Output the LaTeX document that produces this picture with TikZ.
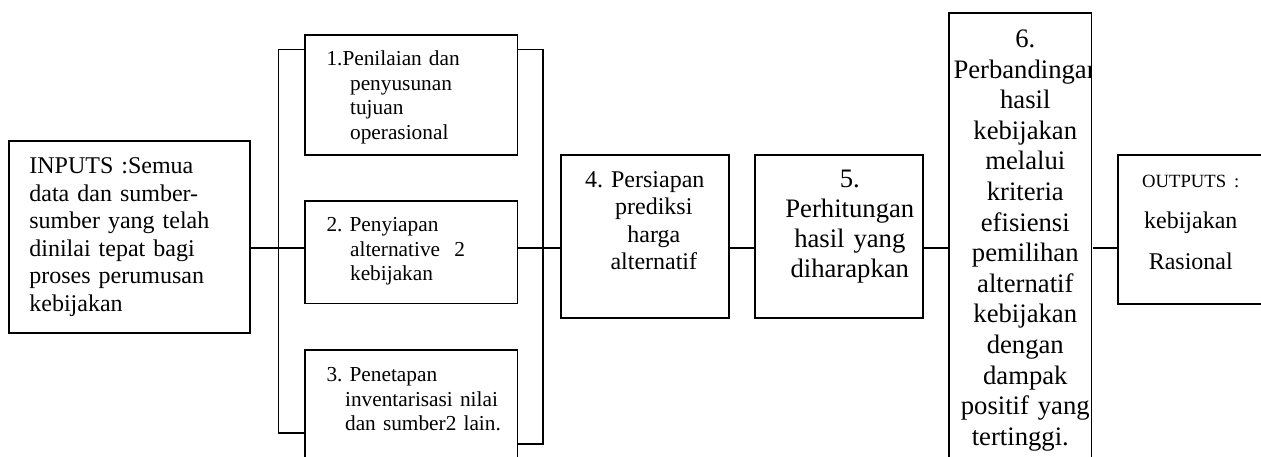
\documentclass[tikz,border=0pt]{standalone}
\usepackage{fontspec}
\setmainfont{Liberation Serif}
\frenchspacing
\tikzstyle{box} = [draw, line width=1.6pt, anchor=north west, inner ysep=0pt]
\tikzstyle{wire} = [line width=1.6pt]
\newcommand{\txtIn}{\fontsize{24}{27.6}\selectfont}
\newcommand{\txtStep}{\fontsize{21.33}{24.5}\selectfont}
\newcommand{\txtMid}{\fontsize{24}{27.3}\selectfont}
\newcommand{\txtBig}{\fontsize{26.67}{30}\selectfont}
\newcommand{\txtTall}{\fontsize{26.67}{30.6}\selectfont}
\newcommand{\txtOut}{\fontsize{24}{40.8}\selectfont}

\begin{document}
\begin{tikzpicture}[x=1pt,y=-1pt]
	\useasboundingbox (0,0) rectangle (1261,456);
	\clip (0,0) rectangle (1261,456);
	% input and the three parallel steps
	\node[box, font=\txtIn, align=left, inner xsep=20.6pt, text width=199.8pt, text height=32.7pt, text depth=159.3pt] (inputs) at (8,140) {INPUTS :Semua\\data dan sumber-\\sumber yang telah\\dinilai tepat bagi\\proses perumusan\\kebijakan};
	\node[box, font=\txtStep, align=left, inner xsep=21.4pt, text width=169.7pt, text height=31pt, text depth=89pt] (b1) at (304.3,34) {1.Penilaian dan\\\hspace*{23.6pt}penyusunan\\\hspace*{23.6pt}tujuan\\\hspace*{23.6pt}operasional};
	\node[box, font=\txtStep, align=left, inner xsep=21.4pt, text width=169.7pt, text height=31pt, text depth=71.7pt] (b2) at (304.3,200) {2. Penyiapan\\\hspace*{23.6pt}alternative~~2\\\hspace*{23.6pt}kebijakan};
	\node[box, font=\txtStep, align=left, inner xsep=21.4pt, text width=169.7pt, text height=31.7pt, text depth=89pt] (b3) at (304.3,349.3) {3. Penetapan\\\hspace*{18.6pt}\mbox{inventarisasi nilai}\\\hspace*{18.6pt}\mbox{dan sumber2 lain.}};
	% the steps in a row
	\node[box, font=\txtMid, align=center, inner xsep=0pt, text width=168pt, text height=32.7pt, text depth=130.3pt] (b4) at (560,154) {4. Persiapan\\\hspace*{18pt}prediksi\\\hspace*{18pt}harga\\\hspace*{18pt}alternatif};
	\node[box, font=\txtBig, align=center, inner xsep=0pt, text width=168pt, text height=32.7pt, text depth=130.3pt] (b5) at (754,154) {\hspace*{22pt}5.\\\hspace*{22pt}Perhitungan\\\hspace*{22pt}hasil yang\\\hspace*{22pt}diharapkan};
	\begin{scope}
		\clip (940,0) rectangle (1091.8,470);
		\node[box, font=\txtTall, align=center, inner xsep=0pt, text width=143pt, text height=34.7pt, text depth=423.3pt] (b6) at (948,12) {\leftskip=10pt plus 1fil\rightskip=0pt plus 1fil\parfillskip=0pt\relax 6.\\\hspace*{-5.3pt}\mbox{Perbandingan}\\hasil\\kebijakan\\melalui\\kriteria\\efisiensi\\pemilihan\\alternatif\\kebijakan\\dengan\\dampak\\positif yang\\tertinggi.};
	\end{scope}
	\node[box, font=\txtOut, align=center, inner xsep=0pt, text width=146pt, text height=32.7pt, text depth=116.3pt] (out) at (1117,154) {{\fontsize{18.67}{40.8}\selectfont OUTPUTS :}\\kebijakan\\Rasional};
	% connectors
	\coordinate (mid) at (0,248);
	\coordinate (ltop) at (278.6,49.3);
	\coordinate (lbot) at (278.6,433);
	\coordinate (rtop) at (543,49.3);
	\coordinate (rbot) at (543,444);
	\draw[wire] (ltop -| b1.west) -- (ltop) -- (lbot) -- (lbot -| b3.west);
	\draw[wire] (rtop -| b1.east) -- (rtop) -- (rbot) -- (rbot -| b3.east);
	\draw[wire] (inputs.east |- mid) -- (b2.west |- mid);
	\draw[wire] (b2.east |- mid) -- (b4.west |- mid);
	\draw[wire] (b4.east |- mid) -- (b5.west |- mid);
	\draw[wire] (b5.east |- mid) -- (b6.west |- mid);
	\draw[wire] (b6.east |- mid) -- (out.west |- mid);
\end{tikzpicture}
\end{document}
